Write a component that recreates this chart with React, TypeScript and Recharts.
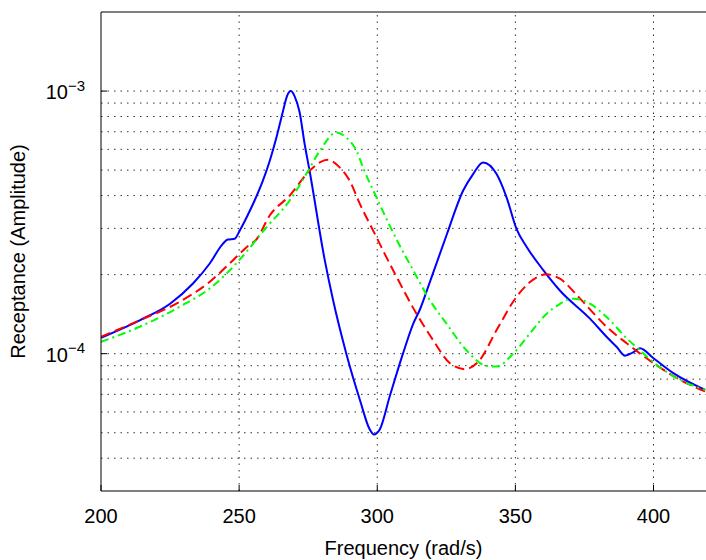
import { LineChart, Line, XAxis, YAxis, ReferenceLine } from "recharts";

// frequencies (rad/s) and receptance amplitudes
const blueFreq = [
  200, 214, 225, 233.3, 239.3, 244.1, 245.9, 248.4, 250.2, 253, 255.6, 258.6,
  261.1, 263.5, 265.9, 267.3, 268.7, 270.1, 271.9, 273.7, 275.5, 281,
  284, 288.8, 293.7, 297.3, 298.8, 300.9, 304.5, 309.3, 313, 315.4, 319, 325.1,
  331.1, 334.7, 338.3, 343.2, 346.8, 350.4, 354.1, 360.1, 366.1, 377, 383,
  386.7, 389.7, 392.5, 395.1, 400, 407.2, 418.7
];
const blueAmp = [
  1.15e-4, 1.34e-4, 1.55e-4, 1.85e-4, 2.2e-4, 2.62e-4, 2.72e-4, 2.74e-4,
  2.94e-4, 3.35e-4, 3.83e-4, 4.56e-4, 5.43e-4, 6.65e-4, 8.4e-4, 9.55e-4,
  1.0e-3, 9.55e-4, 8.3e-4, 6.3e-4, 4.97e-4, 2.27e-4, 1.6e-4, 1.0e-4,
  6.68e-5, 5.14e-5, 4.92e-5, 5.14e-5, 6.87e-5, 1.0e-4, 1.3e-4, 1.47e-4,
  1.87e-4, 2.83e-4, 4.18e-4, 4.83e-4, 5.35e-4, 4.83e-4, 3.94e-4, 2.99e-4,
  2.55e-4, 2.08e-4, 1.74e-4, 1.36e-4, 1.16e-4, 1.06e-4, 0.983e-4, 1.01e-4,
  1.048e-4, 0.961e-4, 0.843e-4, 0.728e-4
];

const redFreq = [
  200, 214, 228.4, 239.3, 247.8, 253.4, 256.2, 261, 268.3, 275.5, 279.2, 282,
  286.4, 290, 293.7, 299.7, 302.7, 307, 314.2, 320.2, 326.3, 331.7, 337.1,
  343.2, 350.4, 355.3, 361.3, 366.1, 373.4, 383, 390.3, 400, 409.6, 418.7
];
const redAmp = [
  1.16e-4, 1.34e-4, 1.575e-4, 1.875e-4, 2.27e-4, 2.58e-4, 2.72e-4, 3.35e-4,
  4.0e-4, 4.97e-4, 5.35e-4, 5.47e-4, 5.12e-4, 4.56e-4, 3.72e-4, 2.78e-4,
  2.4e-4, 1.96e-4, 1.42e-4, 1.127e-4, 0.92e-4, 0.873e-4, 0.946e-4, 1.23e-4,
  1.645e-4, 1.875e-4, 2.005e-4, 1.93e-4, 1.62e-4, 1.266e-4, 1.095e-4,
  0.92e-4, 0.795e-4, 0.718e-4
];

const greenFreq = [
  200, 214, 228.4, 239.3, 247.8, 250.2, 259.9, 268.3, 274.3, 279.2, 285.2,
  288.8, 292.5, 294.9, 299.7, 300.9, 307, 313, 319, 325.1, 332.3, 339.6, 343.2,
  349.2, 355.3, 361.3, 365, 371, 377, 383, 390.3, 395.1, 401.2, 409.6, 418.7
];
const greenAmp = [
  1.11e-4, 1.266e-4, 1.508e-4, 1.77e-4, 2.14e-4, 2.28e-4, 3.03e-4, 3.83e-4,
  4.83e-4, 5.92e-4, 6.95e-4, 6.65e-4, 5.92e-4, 5.1e-4, 3.94e-4, 3.7e-4,
  2.72e-4, 2.08e-4, 1.6e-4, 1.3e-4, 1.03e-4, 0.898e-4, 0.893e-4, 1.0e-4,
  1.195e-4, 1.42e-4, 1.52e-4, 1.62e-4, 1.55e-4, 1.38e-4, 1.144e-4, 1.03e-4,
  0.906e-4, 0.795e-4, 0.728e-4
];

const xTicks = [200, 250, 300, 350, 400];
const xGrid = [250, 300, 350, 400];
const yTicks = [1e-4, 1e-3];
const yTickExp = ["\u22124", "\u22123"];
const yGrid = [
  4e-5, 5e-5, 6e-5, 7e-5, 8e-5, 9e-5, 1e-4, 2e-4, 3e-4, 4e-4, 5e-4, 6e-4,
  7e-4, 8e-4, 9e-4, 1e-3
];

const zip = (f: number[], a: number[]) => f.map((v, i) => ({ f: v, a: a[i] }));
const blueData = zip(blueFreq, blueAmp);
const redData = zip(redFreq, redAmp);
const greenData = zip(greenFreq, greenAmp);

const font = "'Liberation Sans', Arial, Helvetica, sans-serif";
const grid = { stroke: "#333", strokeWidth: 1, strokeDasharray: "1.5 5" };

function BottomTick(p: any) {
  return (
    <g>
      <line x1={p.x} x2={p.x} y1={p.y} y2={p.y - 6} stroke="#000" />
      <text x={p.x} y={p.y + 32} textAnchor="middle" fontSize={20} fontFamily={font} fill="#000">
        {p.payload.value}
      </text>
    </g>
  );
}

function TopTick(p: any) {
  return <line x1={p.x} x2={p.x} y1={p.y} y2={p.y + 6} stroke="#000" />;
}

function LeftTick(p: any) {
  const exp = yTickExp[yTicks.indexOf(p.payload.value)] ?? "";
  return (
    <g>
      <line x1={p.x} x2={p.x + 6} y1={p.y} y2={p.y} stroke="#000" />
      <text x={p.x - 16} y={p.y + 8} textAnchor="end" fontSize={20} fontFamily={font} fill="#000">
        10
        <tspan dy={-8.5} fontSize={15}>{exp}</tspan>
      </text>
    </g>
  );
}

export default function App() {
  return (
    <div style={{ position: "absolute", left: 0, top: 0, width: 706, height: 560, overflow: "hidden", background: "#fff" }}>
      <LineChart width={706} height={560} margin={{ top: 0, right: 0, bottom: 0, left: 0 }}>
        <XAxis
          dataKey="f"
          type="number"
          domain={[200, 419]}
          ticks={xTicks}
          allowDataOverflow
          height={69}
          tickSize={0}
          tickMargin={0}
          tickLine={false}
          tick={<BottomTick />}
          stroke="#000"
          label={{
            content: (props: any) => {
              const vb = props.viewBox;
              return (
                <text x={vb.x + vb.width / 2} y={vb.y + 64} textAnchor="middle" fontSize={20} fontFamily={font} fill="#000">
                  Frequency (rad/s)
                </text>
              );
            }
          }}
        />
        <XAxis
          xAxisId="top"
          orientation="top"
          type="number"
          domain={[200, 419]}
          ticks={xTicks}
          height={12}
          tickSize={0}
          tickMargin={0}
          tickLine={false}
          tick={<TopTick />}
          stroke="#000"
        />
        <YAxis
          type="number"
          scale="log"
          domain={[3e-5, 2e-3]}
          allowDataOverflow
          ticks={yTicks}
          width={101}
          tickSize={0}
          tickMargin={0}
          tickLine={false}
          tick={<LeftTick />}
          stroke="#000"
          label={{
            content: (props: any) => {
              const vb = props.viewBox;
              const cx = vb.x + 18;
              const cy = vb.y + vb.height / 2;
              return (
                <text
                  x={cx}
                  y={cy}
                  transform={`rotate(-90 ${cx} ${cy})`}
                  textAnchor="middle"
                  dominantBaseline="central"
                  fontSize={20}
                  fontFamily={font}
                  fill="#000"
                >
                  Receptance (Amplitude)
                </text>
              );
            }
          }}
        />
        {yGrid.map((v) => (
          <ReferenceLine key={"y" + v} y={v} {...grid} />
        ))}
        {xGrid.map((v) => (
          <ReferenceLine key={"x" + v} x={v} {...grid} />
        ))}
        <Line data={blueData} dataKey="a" type="monotone" stroke="#0000ff" strokeWidth={2} dot={false} isAnimationActive={false} />
        <Line data={redData} dataKey="a" type="monotone" stroke="#ff0000" strokeWidth={2} strokeDasharray="10 5" dot={false} isAnimationActive={false} />
        <Line data={greenData} dataKey="a" type="monotone" stroke="#00ff00" strokeWidth={2} strokeDasharray="8 4 2 4" dot={false} isAnimationActive={false} />
      </LineChart>
    </div>
  );
}
